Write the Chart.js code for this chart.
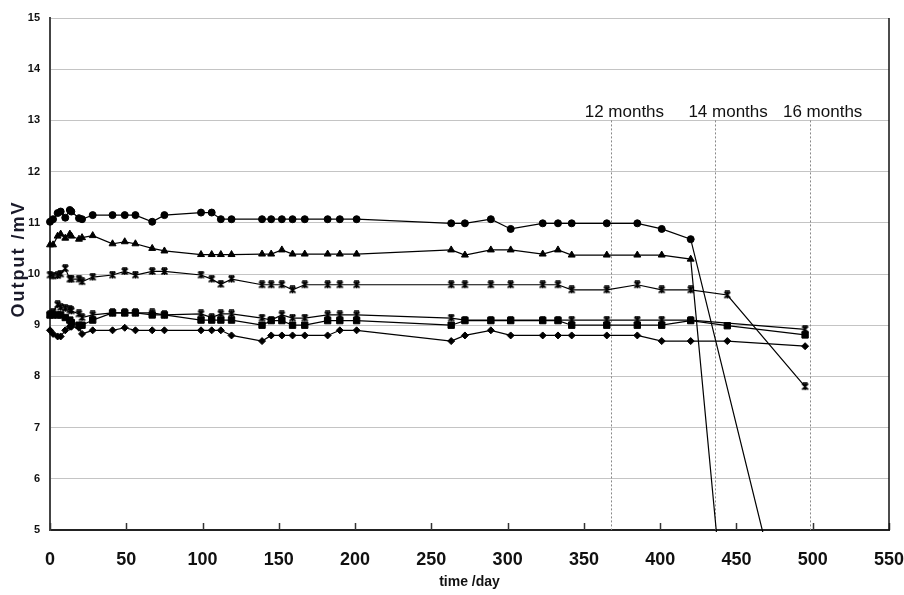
<!DOCTYPE html>
<html>
<head>
<meta charset="utf-8">
<script src="https://cdn.jsdelivr.net/npm/chart.js@4/dist/chart.umd.min.js"></script>
<style>
  html, body { margin: 0; padding: 0; background: #fff; }
  #wrap { width: 904px; height: 595px; }
</style>
</head>
<body>
<div id="wrap"><canvas id="chart" width="904" height="595"></canvas></div>
<script>
// readings (day of measurement)
const days = [0, 2, 5, 7, 10, 13, 14, 19, 21, 28, 41, 49, 56, 67, 75, 99, 106, 112, 119,
  139, 145, 152, 159, 167, 182, 190, 201, 263, 272, 289, 302, 323, 333, 342, 365, 385, 401, 420, 444, 495];

// sensor outputs in mV, one list per sensor (null = no reading)
const circles = [11.02, 11.07, 11.19, 11.22, 11.1, 11.25, 11.22, 11.09, 11.07, 11.15, 11.15, 11.15, 11.15, 11.02, 11.15,
  11.2, 11.2, 11.07, 11.07, 11.07, 11.07, 11.07, 11.07, 11.07, 11.07, 11.07, 11.07, 10.99, 10.99, 11.07, 10.88,
  10.99, 10.99, 10.99, 10.99, 10.99, 10.88, 10.68, null, 1.6];
const triangles = [10.57, 10.57, 10.74, 10.78, 10.7, 10.78, 10.74, 10.68, 10.71, 10.75, 10.59, 10.63, 10.59, 10.5, 10.45,
  10.38, 10.38, 10.38, 10.38, 10.39, 10.39, 10.47, 10.39, 10.39, 10.39, 10.39, 10.39, 10.47, 10.37, 10.47, 10.47,
  10.39, 10.47, 10.37, 10.37, 10.37, 10.37, 10.29, 2.7, null];
const stars = [9.98, 9.96, 9.97, 10.0, 10.11, 9.9, 9.9, 9.9, 9.85, 9.94, 9.98, 10.05, 9.98, 10.05, 10.05,
  9.98, 9.9, 9.8, 9.9, 9.79, 9.79, 9.79, 9.69, 9.79, 9.79, 9.79, 9.79, 9.79, 9.79, 9.79, 9.79,
  9.79, 9.79, 9.69, 9.69, 9.79, 9.69, 9.69, 9.59, 7.8];
const crosses = [9.2, 9.25, 9.4, 9.35, 9.33, 9.3, 9.28, 9.22, 9.15, 9.2, 9.24, 9.24, 9.24, 9.24, 9.2,
  9.22, 9.15, 9.22, 9.22, 9.14, 9.1, 9.2, 9.14, 9.14, 9.2, 9.2, 9.2, 9.14, 9.1, 9.1, 9.1,
  9.1, 9.1, 9.1, 9.1, 9.1, 9.1, 9.1, null, 8.92];
const squares = [9.2, 9.2, 9.2, 9.2, 9.15, 9.1, 9.05, 9.0, 9.0, 9.1, 9.24, 9.24, 9.24, 9.2, 9.2,
  9.1, 9.1, 9.1, 9.1, 9.0, 9.09, 9.09, 9.0, 9.0, 9.09, 9.09, 9.09, 9.0, 9.09, 9.09, 9.09,
  9.09, 9.09, 9.0, 9.0, 9.0, 9.0, 9.09, 8.99, 8.81];
const diamonds = [8.9, 8.83, 8.78, 8.78, 8.9, 8.97, 8.97, 8.95, 8.83, 8.9, 8.9, 8.95, 8.9, 8.9, 8.9,
  8.9, 8.9, 8.9, 8.8, 8.69, 8.8, 8.8, 8.8, 8.8, 8.8, 8.9, 8.9, 8.69, 8.8, 8.9, 8.8,
  8.8, 8.8, 8.8, 8.8, 8.8, 8.69, 8.69, 8.69, 8.59];

// month markers
const monthDays = [368, 436, 498];
const monthLabels = ['12 months', '14 months', '16 months'];
const xTicks = [0, 50, 100, 150, 200, 250, 300, 350, 400, 450, 500, 550];

// small asterisk-like marker, Excel style
function starMarker() {
  const c = document.createElement('canvas');
  c.width = 9; c.height = 9;
  const g = c.getContext('2d');
  g.strokeStyle = '#000';
  g.lineWidth = 1.7;
  g.beginPath();
  g.moveTo(1.5, 1.5); g.lineTo(7.5, 7.5);
  g.moveTo(7.5, 1.5); g.lineTo(1.5, 7.5);
  g.moveTo(4.5, 1); g.lineTo(4.5, 8);
  g.moveTo(2, 1); g.lineTo(7, 1);
  g.stroke();
  return c;
}
const starImg = starMarker();

const toPoints = vals => days.map((d, i) => ({ x: d, y: vals[i] })).filter(p => p.y !== null);

function series(vals, style, radius) {
  return {
    data: toPoints(vals),
    borderColor: '#000',
    borderWidth: 1.2,
    pointStyle: style,
    pointRadius: radius,
    pointHoverRadius: radius,
    pointBackgroundColor: '#000',
    pointBorderColor: '#000',
    pointBorderWidth: 1,
    clip: { left: 10, top: 10, right: 10, bottom: 2 },
    tension: 0
  };
}

// decorations: dashed month lines, inner ticks, right border, y title
const decor = {
  id: 'decor',
  beforeDatasetsDraw(chart) {
    const { ctx, chartArea: a, scales: { x, y } } = chart;
    ctx.save();
    ctx.strokeStyle = '#888';
    ctx.lineWidth = 1;
    ctx.setLineDash([2, 2]);
    monthDays.forEach(d => {
      const px = Math.round(x.getPixelForValue(d)) + 0.5;
      ctx.beginPath();
      ctx.moveTo(px, y.getPixelForValue(13));
      ctx.lineTo(px, a.bottom);
      ctx.stroke();
    });
    ctx.setLineDash([]);
    ctx.fillStyle = '#111';
    ctx.font = '17px "Liberation Sans", Arial, sans-serif';
    ctx.textAlign = 'center';
    ctx.textBaseline = 'middle';
    monthDays.forEach((d, i) => {
      ctx.fillText(monthLabels[i], x.getPixelForValue(d) + 13, 112);
    });
    ctx.restore();
  },
  afterDraw(chart) {
    const { ctx, chartArea: a, scales: { x } } = chart;
    ctx.save();
    ctx.strokeStyle = '#333';
    ctx.lineWidth = 1.5;
    xTicks.forEach(v => {
      const px = Math.round(x.getPixelForValue(v)) + 0.5;
      ctx.beginPath();
      ctx.moveTo(px, a.bottom);
      ctx.lineTo(px, a.bottom - 7);
      ctx.stroke();
    });
    ctx.strokeStyle = '#111';
    ctx.beginPath();
    ctx.moveTo(a.right, a.top);
    ctx.lineTo(a.right, a.bottom);
    ctx.stroke();

    ctx.translate(19, 259);
    ctx.rotate(-Math.PI / 2);
    ctx.font = 'bold 18px "Liberation Sans", Arial, sans-serif';
    ctx.letterSpacing = '2px';
    ctx.fillStyle = '#1a1a2a';
    ctx.textAlign = 'center';
    ctx.textBaseline = 'middle';
    ctx.fillText('Output /mV', 0, 0);
    ctx.restore();
  }
};

new Chart(document.getElementById('chart'), {
  type: 'line',
  data: {
    datasets: [
      series(circles, 'circle', 3.5),
      series(triangles, 'triangle', 4),
      series(stars, starImg, 4),
      series(crosses, starImg, 4),
      series(squares, 'rect', 4.5),
      series(diamonds, 'rectRot', 3.5)
    ]
  },
  options: {
    responsive: false,
    animation: false,
    devicePixelRatio: 1,
    layout: { padding: { top: 18, right: 15, bottom: 0, left: 0 }, autoPadding: false },
    plugins: { legend: { display: false }, tooltip: { enabled: false } },
    scales: {
      x: {
        type: 'linear',
        min: 0,
        max: 550,
        afterFit: s => { s.height = 65; s.paddingLeft = 0; s.paddingRight = 0; },
        afterBuildTicks: s => { s.ticks = xTicks.map(v => ({ value: v })); },
        ticks: {
          autoSkip: false,
          maxRotation: 0,
          padding: 19,
          color: '#111',
          font: { family: '"Liberation Sans", Arial, sans-serif', size: 18, weight: 'bold' }
        },
        grid: { display: false, drawTicks: false },
        border: { display: true, color: '#222', width: 2 },
        title: {
          display: true,
          text: 'time /day',
          color: '#111',
          padding: { top: 0, bottom: 4 },
          font: { family: '"Liberation Sans", Arial, sans-serif', size: 14, weight: 'bold' }
        }
      },
      y: {
        min: 5,
        max: 15,
        afterFit: s => { s.width = 50; s.paddingTop = 0; s.paddingBottom = 0; },
        ticks: {
          stepSize: 1,
          autoSkip: false,
          padding: 10,
          color: '#111',
          font: { family: '"Liberation Sans", Arial, sans-serif', size: 11, weight: 'bold' }
        },
        grid: { color: '#c4c4c4', lineWidth: 1, drawTicks: false },
        border: { display: true, color: '#444', width: 2 }
      }
    }
  },
  plugins: [decor]
});
</script>
</body>
</html>
